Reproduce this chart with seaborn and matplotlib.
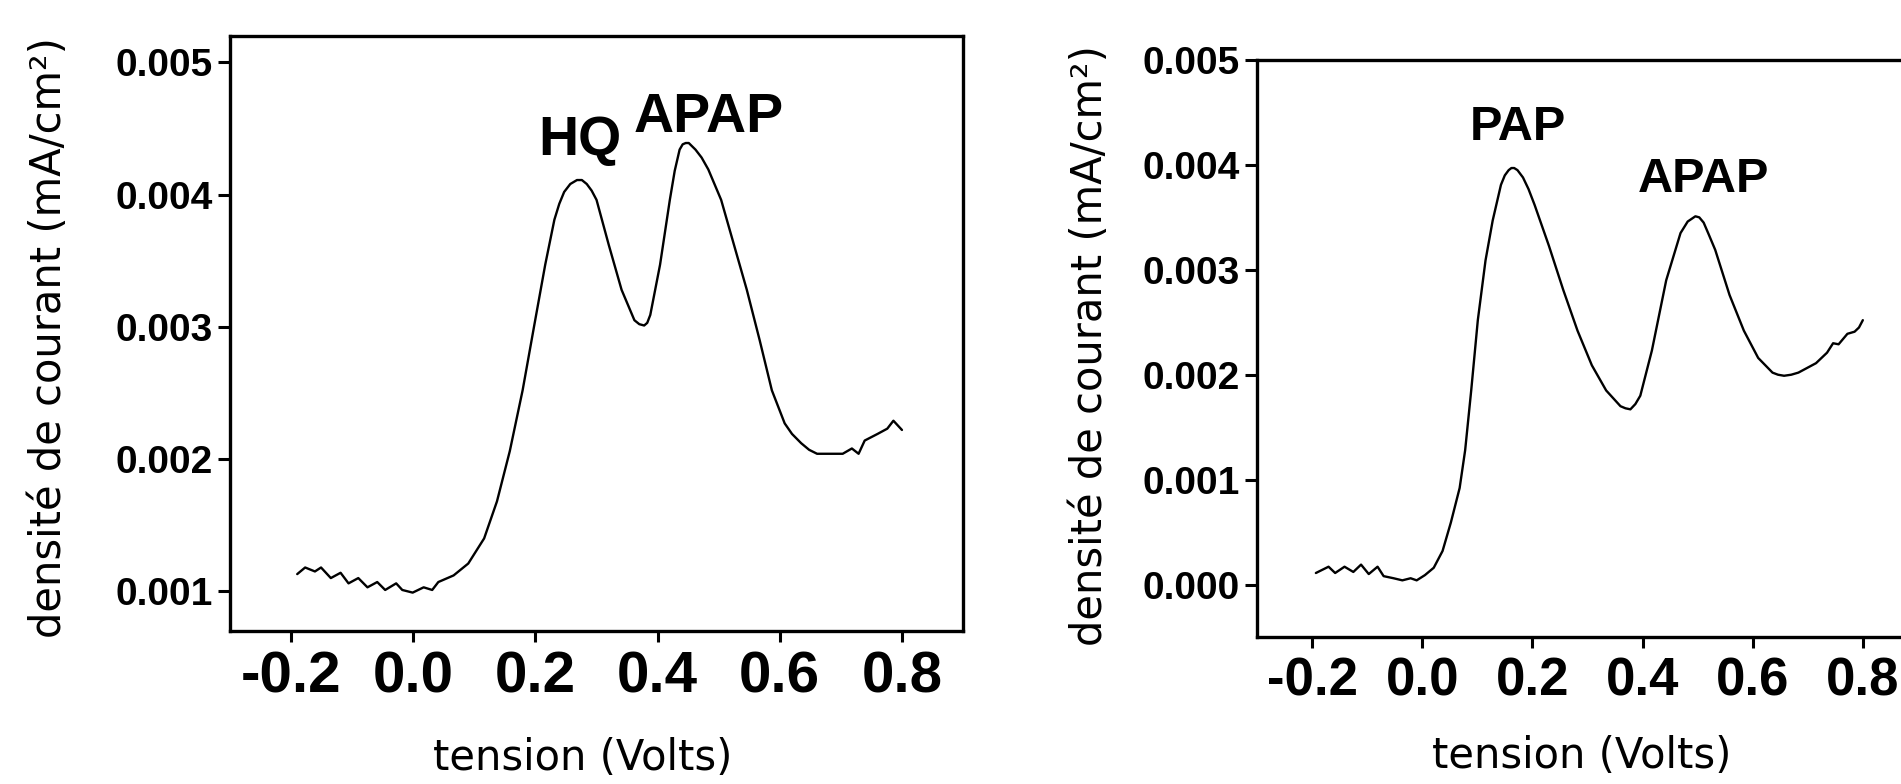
import pandas as pd
import matplotlib
matplotlib.use('Agg')
import matplotlib.pyplot as plt
import seaborn as sns

# voltammogram, HQ + APAP
v_left = [-0.19, -0.177, -0.161, -0.151, -0.135, -0.119, -0.106, -0.090, -0.075, -0.059,
          -0.046, -0.028, -0.018, -0.001, 0.017, 0.031, 0.041, 0.066, 0.090, 0.116,
          0.137, 0.158, 0.179, 0.198, 0.216, 0.231, 0.239, 0.247, 0.257, 0.268,
          0.276, 0.284, 0.292, 0.300, 0.320, 0.341, 0.362, 0.370, 0.378, 0.383,
          0.388, 0.404, 0.420, 0.428, 0.436, 0.441, 0.446, 0.451, 0.462, 0.472,
          0.483, 0.504, 0.525, 0.546, 0.567, 0.587, 0.608, 0.620, 0.635, 0.648,
          0.661, 0.682, 0.703, 0.718, 0.729, 0.739, 0.760, 0.776, 0.786, 0.800]
j_left = [0.00113, 0.00118, 0.00115, 0.00118, 0.00110, 0.00114, 0.00106, 0.00110, 0.00103, 0.00107,
          0.00101, 0.00106, 0.00101, 0.00099, 0.00103, 0.00101, 0.00107, 0.00112, 0.00121, 0.00140,
          0.00168, 0.00206, 0.00252, 0.00301, 0.00347, 0.00381, 0.00393, 0.00402, 0.00408, 0.00411,
          0.00411, 0.00408, 0.00403, 0.00396, 0.00362, 0.00328, 0.00305, 0.00302, 0.00301, 0.00303,
          0.00309, 0.00347, 0.00396, 0.00418, 0.00434, 0.00438, 0.00439, 0.00439, 0.00434, 0.00428,
          0.00419, 0.00396, 0.00362, 0.00328, 0.00290, 0.00252, 0.00227, 0.00219, 0.00212, 0.00207,
          0.00204, 0.00204, 0.00204, 0.00208, 0.00204, 0.00214, 0.00219, 0.00223, 0.00229, 0.00222]

# voltammogram, PAP + APAP
v_right = [-0.193, -0.170, -0.158, -0.141, -0.125, -0.111, -0.097, -0.081, -0.070, -0.052,
           -0.036, -0.021, -0.010, 0.005, 0.021, 0.037, 0.052, 0.068, 0.078, 0.089,
           0.101, 0.115, 0.128, 0.143, 0.150, 0.157, 0.162, 0.167, 0.173, 0.183,
           0.193, 0.204, 0.230, 0.256, 0.282, 0.308, 0.334, 0.360, 0.369, 0.378,
           0.387, 0.396, 0.417, 0.443, 0.469, 0.482, 0.496, 0.503, 0.511, 0.520,
           0.532, 0.558, 0.584, 0.610, 0.636, 0.646, 0.657, 0.670, 0.683, 0.715,
           0.735, 0.746, 0.756, 0.772, 0.785, 0.793, 0.800]
j_right = [0.00011, 0.00017, 0.00011, 0.00017, 0.00012, 0.00019, 0.00010, 0.00017, 0.00008, 0.00006,
           0.00004, 0.00006, 0.00004, 0.00009, 0.00016, 0.00032, 0.00059, 0.00092, 0.00128, 0.00185,
           0.00252, 0.00309, 0.00347, 0.00381, 0.00390, 0.00395, 0.00397, 0.00397, 0.00395, 0.00388,
           0.00377, 0.00362, 0.00323, 0.00281, 0.00242, 0.00209, 0.00185, 0.00170, 0.00168, 0.00167,
           0.00172, 0.00180, 0.00223, 0.00290, 0.00335, 0.00346, 0.00351, 0.00350, 0.00345, 0.00334,
           0.00319, 0.00276, 0.00242, 0.00216, 0.00202, 0.00200, 0.00199, 0.00200, 0.00202, 0.00211,
           0.00221, 0.00230, 0.00229, 0.00239, 0.00241, 0.00245, 0.00252]

xticks = [-0.2, 0.0, 0.2, 0.4, 0.6, 0.8]
yticks_left = [0.001, 0.002, 0.003, 0.004, 0.005]
yticks_right = [0.000, 0.001, 0.002, 0.003, 0.004, 0.005]

peaks_left = [('HQ', 0.204, 0.00430), ('APAP', 0.360, 0.00447)]
peaks_right = [('PAP', 0.087, 0.00424), ('APAP', 0.392, 0.00374)]

sns.set_theme(style='ticks')
plt.rcParams['font.family'] = ['Liberation Sans', 'DejaVu Sans']

fig = plt.figure(figsize=(19.01, 7.84), dpi=100)
ax1 = fig.add_axes([0.121, 0.1952, 0.3856, 0.759])
ax2 = fig.add_axes([0.6612, 0.1875, 0.3477, 0.736])

df1 = pd.DataFrame({'v': v_left, 'j': j_left})
df2 = pd.DataFrame({'v': v_right, 'j': j_right})
for ax, df in [(ax1, df1), (ax2, df2)]:
    sns.lineplot(data=df, x='v', y='j', ax=ax, color='black', linewidth=1.7, sort=False,
                 solid_joinstyle='round', solid_capstyle='round')

setup = [(ax1, yticks_left, (0.0007, 0.0052), 42, 6, peaks_left, 40),
         (ax2, yticks_right, (-0.0005, 0.005), 38, 6, peaks_right, 35)]
for ax, yt, ylim, xsize, xpad, peaks, psize in setup:
    ax.set_xlim(-0.3, 0.9)
    ax.set_ylim(*ylim)
    ax.set_xticks(xticks)
    ax.set_xticklabels(['%.1f' % t for t in xticks], fontsize=xsize, fontweight='bold')
    ax.set_yticks(yt)
    ax.set_yticklabels(['%.3f' % t for t in yt], fontsize=28, fontweight='bold')
    ax.tick_params(axis='y', length=8.5, width=2.2, pad=4, colors='black')
    ax.tick_params(axis='x', length=8, width=2.2, pad=xpad, colors='black')
    for s in ax.spines.values():
        s.set_linewidth(2.4)
        s.set_color('black')
    ax.set_xlabel('')
    ax.set_ylabel('')
    for name, px, py in peaks:
        ax.text(px, py, name, fontsize=psize, fontweight='bold', color='black',
                ha='left', va='baseline')

lab = dict(family=['DejaVu Sans'], fontsize=30, color='black')
fig.text(0.026, 0.570, 'densité de courant (mA/cm²)', rotation=90, ha='center', va='center', **lab)
fig.text(0.5736, 0.559, 'densité de courant (mA/cm²)', rotation=90, ha='center', va='center', **lab)
fig.text(0.3067, 0.0179, 'tension (Volts)', ha='center', va='baseline', **lab)
fig.text(0.832, 0.021, 'tension (Volts)', ha='center', va='baseline', **lab)

fig.savefig('out.png', dpi=100)
